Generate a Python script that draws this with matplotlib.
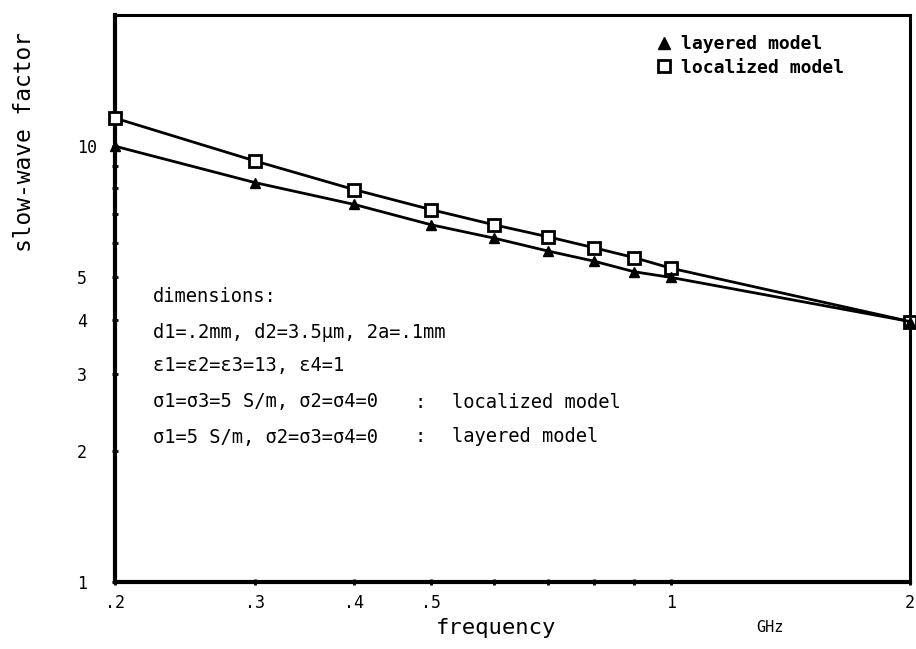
import matplotlib
matplotlib.use("Agg")
import matplotlib.pyplot as plt
from matplotlib.lines import Line2D
from matplotlib.ticker import FixedLocator, NullFormatter, FixedFormatter

# ---- data ----
freq_ghz = [0.2, 0.3, 0.4, 0.5, 0.6, 0.7, 0.8, 0.9, 1.0, 2.0]
localized = [11.6, 9.25, 7.95, 7.15, 6.6, 6.2, 5.85, 5.55, 5.25, 3.96]
layered = [10.0, 8.25, 7.35, 6.6, 6.15, 5.75, 5.45, 5.15, 5.0, 3.96]

x_major = [0.2, 0.3, 0.4, 0.5, 1.0, 2.0]
x_major_labels = [".2", ".3", ".4", ".5", "1", "2"]
x_minor = [0.6, 0.7, 0.8, 0.9]
y_major = [1, 2, 3, 4, 5, 10]
y_major_labels = ["1", "2", "3", "4", "5", "10"]
y_minor = [6, 7, 8, 9]

notes = [
    "dimensions:",
    "d1=.2mm, d2=3.5μm, 2a=.1mm",
    "ε1=ε2=ε3=13, ε4=1",
    "σ1=σ3=5 S/m, σ2=σ4=0",
    "σ1=5 S/m, σ2=σ3=σ4=0",
]
note_models = ["", "", "", "localized model", "layered model"]

W, H = 916, 649
fig = plt.figure(figsize=(W / 100, H / 100), dpi=100)
L, R, T, B = 115, 910, 15, 582
ax = fig.add_axes([L / W, 1 - B / H, (R - L) / W, (B - T) / H])
ax.set_xscale("log")
ax.set_yscale("log")
ax.set_xlim(0.2, 2.0)
ax.set_ylim(1, 20)

mono = "DejaVu Sans Mono"

ax.plot(freq_ghz, localized, color="black", lw=2.0, marker="s", ms=8,
        mfc="white", mec="black", mew=2.0, clip_on=False, zorder=3)
ax.plot(freq_ghz, layered, color="black", lw=2.0, marker="^", ms=7,
        mfc="black", mec="black", clip_on=False, zorder=3)

for name, s in ax.spines.items():
    s.set_linewidth(3.0 if name in ("left", "bottom") else 2.2)

ax.xaxis.set_major_locator(FixedLocator(x_major))
ax.xaxis.set_major_formatter(FixedFormatter(x_major_labels))
ax.xaxis.set_minor_locator(FixedLocator(x_minor))
ax.xaxis.set_minor_formatter(NullFormatter())
ax.yaxis.set_major_locator(FixedLocator(y_major))
ax.yaxis.set_major_formatter(FixedFormatter(y_major_labels))
ax.yaxis.set_minor_locator(FixedLocator(y_minor))
ax.yaxis.set_minor_formatter(NullFormatter())
ax.tick_params(which="both", direction="inout", length=5, width=2)
ax.tick_params(axis="x", which="major", pad=6, labelsize=12)
ax.tick_params(axis="y", which="major", pad=25, labelsize=12)
for lab in ax.get_xticklabels():
    lab.set_family(mono)
for lab in ax.get_yticklabels():
    lab.set_family(mono)
    lab.set_horizontalalignment("left")

ax.set_xlabel("frequency", family=mono, fontsize=16)
ax.xaxis.set_label_coords((496 - L) / (R - L), -(618 - B) / (B - T))
ax.set_ylabel("slow-wave factor", family=mono, fontsize=16.5)
ax.yaxis.set_label_coords(-(L - 36) / (R - L), (B - 142) / (B - T))
fig.text(770 / W, 1 - 627 / H, "GHz", family=mono, fontsize=11,
         ha="center", va="center")

handles = [
    Line2D([], [], ls="none", marker="^", ms=8, mfc="black", mec="black"),
    Line2D([], [], ls="none", marker="s", ms=8, mfc="white", mec="black", mew=2),
]
ax.legend(handles, ["layered model", "localized model"], loc="upper left",
          bbox_to_anchor=(641 / W, 1 - 19 / H), bbox_transform=fig.transFigure,
          frameon=False, handlelength=0.8, handletextpad=0.5, labelspacing=0.3,
          prop={"family": mono, "weight": "bold", "size": 13})

ys = [297, 332, 366, 402, 437]
for text, model, y in zip(notes, note_models, ys):
    fig.text(153 / W, 1 - y / H, text, family=mono, fontsize=13.5, va="center")
    if model:
        fig.text(420 / W, 1 - y / H, ":", family=mono, fontsize=13.5,
                 va="center", ha="center")
        fig.text(452 / W, 1 - y / H, model, family=mono, fontsize=13.5,
                 va="center")

fig.savefig("out.png", dpi=100)
